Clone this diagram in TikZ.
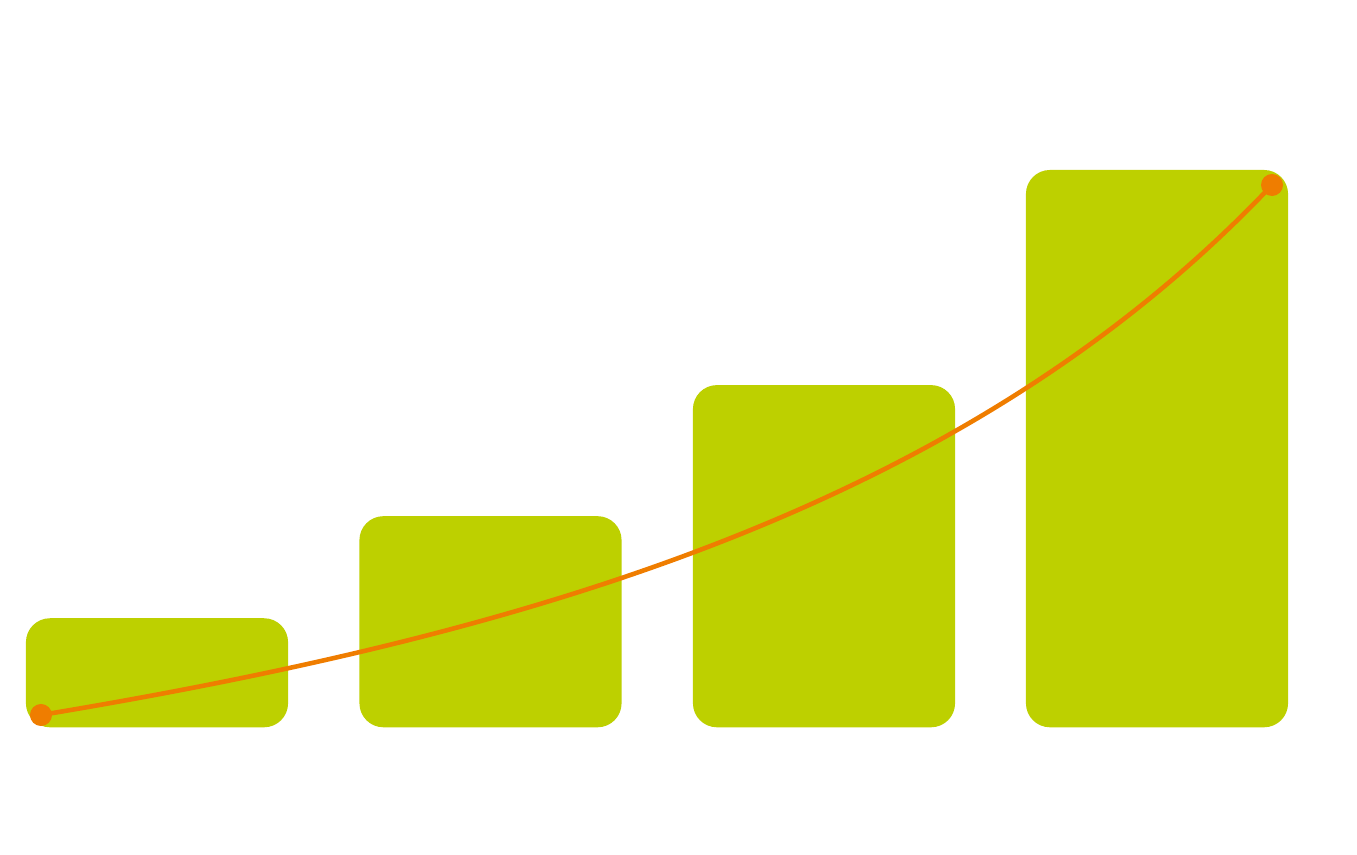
\documentclass[tikz,border=0pt]{standalone}
\usepackage{xcolor}
\definecolor{barlime}{HTML}{BDD000}
\definecolor{curveorange}{HTML}{EF7D00}
\usepackage{tikz}
\usetikzlibrary{positioning}

\begin{document}
\begin{tikzpicture}[x=0.01cm,y=-0.01cm,
    bar/.style={fill=barlime,rounded corners=0.24cm,minimum width=2.62cm,anchor=south,inner sep=0pt},
    growth/.style={draw=curveorange,line width=1.3pt},
    dot/.style={circle,fill=curveorange,minimum size=0.22cm,inner sep=0pt}]
          \useasboundingbox (0,0) rectangle (1357,855);
          % bars, bottom aligned
          \foreach \i/\x/\h in {1/157/1.09,2/490.5/2.11,3/824/3.42,4/1157/5.57}
            \node[bar,minimum height=\h cm](bar\i) at (\x,728) {};
          \coordinate (c0) at (41,715);
          \coordinate (c1) at (1272,185);
          \draw[growth] (c0) .. controls (541,632) and (972,502) .. (c1);
          \node[dot](d0) at (c0) {};
          \node[dot](d1) at (c1) {};
      \end{tikzpicture}
\end{document}
